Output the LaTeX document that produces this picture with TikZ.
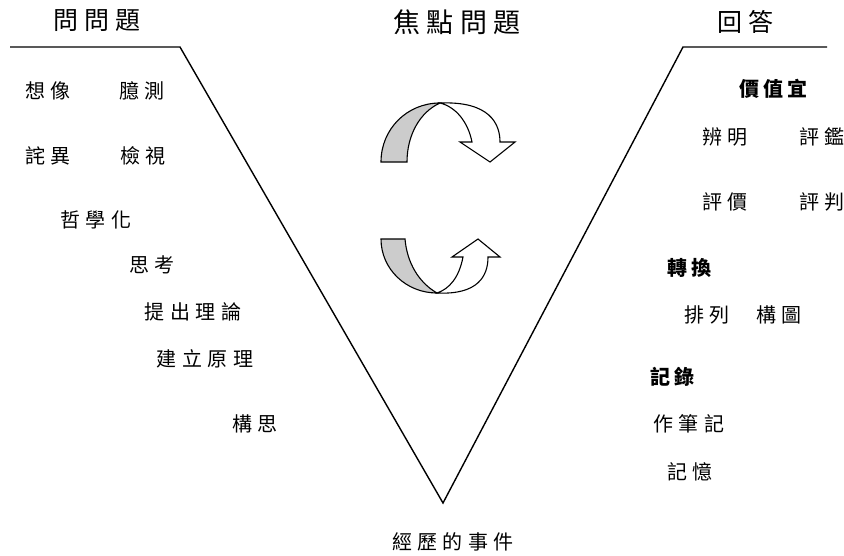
\documentclass[tikz,border=0pt]{standalone}
\usepackage{fontspec}
\newfontfamily\cjksm[LetterSpace=27]{Noto Sans CJK TC}
\newfontfamily\cjkti[LetterSpace=24]{Noto Sans CJK TC}
\newfontfamily\cjkbd[LetterSpace=20]{Noto Sans CJK TC}
\begin{document}
\begin{tikzpicture}[x=1pt,y=-1pt,
  lbl/.style={inner sep=0pt,font=\cjksm\fontsize{20}{22}\selectfont},
  ttl/.style={inner sep=0pt,font=\cjkti\fontsize{25}{28}\selectfont},
  bld/.style={inner sep=0pt,font=\cjkbd\bfseries\fontsize{20}{22}\selectfont},
  vline/.style={line width=1.4pt,line join=miter},
  arr/.style={line width=1.1pt,line join=miter,draw=black},
  grayfill/.style={arr,fill=black!20},
  whitefill/.style={arr,fill=white}]
\useasboundingbox (0,0) rectangle (844,555);
% V lines
\coordinate (l0) at (10,47);
\coordinate (l1) at (180,47);
\coordinate (v) at (443,503);
\coordinate (r1) at (683,47);
\coordinate (r0) at (827,47);
\draw[vline] (l0) -- (l1) -- (v) -- (r1) -- (r0);
% titles
\node[ttl] (t1) at (97,21) {問問題};
\node[ttl,font=\cjkti\fontsize{27}{30}\selectfont] (t2) at (457,22) {焦點問題};
\node[ttl] (t3) at (745,22) {回答};
% left labels
\node[lbl] (a1) at (48,91) {想像};
\node[lbl] (a2) at (142,91) {臆測};
\node[lbl] (a3) at (48,156) {詫異};
\node[lbl] (a4) at (143,156) {檢視};
\node[lbl] (a5) at (96,220) {哲學化};
\node[lbl] (a6) at (152,265) {思考};
\node[lbl] (a7) at (193,312) {提出理論};
\node[lbl] (a8) at (205,359) {建立原理};
\node[lbl] (a9) at (255,424) {構思};
% right labels
\node[bld] (b1) at (773,89) {價值宜};
\node[lbl] (b2) at (725,137) {辨明};
\node[lbl] (b3) at (822,137) {評鑑};
\node[lbl] (b4) at (725,202) {評價};
\node[lbl] (b5) at (822,202) {評判};
\node[bld] (b6) at (689,268) {轉換};
\node[lbl] (b7) at (707,315) {排列};
\node[lbl] (b8) at (779,315) {構圖};
\node[bld] (b9) at (672,377) {記錄};
\node[lbl] (b10) at (689,424) {作筆記};
\node[lbl] (b11) at (690,472) {記憶};
\node[lbl] (c1) at (453,542) {經歷的事件};
% top curved arrow
\path[grayfill] (381,162) -- (407,162)
  .. controls (407,135) and (420,112) .. (440,103)
  .. controls (407,103) and (381,129) .. (381,162) -- cycle;
\path[whitefill] (440,103) .. controls (490,101) and (500,124) .. (500,142)
  -- (515,142) -- (490,162) -- (460,142) -- (472,142)
  .. controls (468,122) and (456,107) .. (440,103) -- cycle;
% bottom curved arrow
\path[grayfill] (381,239) -- (405,239)
  .. controls (407,262) and (418,282) .. (437,293)
  .. controls (406,293) and (381,269) .. (381,239) -- cycle;
\path[whitefill] (437,293) .. controls (478,295) and (488,276) .. (488,257)
  -- (500,257) -- (478,239) -- (452,257) -- (463,257)
  .. controls (459,278) and (449,289) .. (437,293) -- cycle;
\end{tikzpicture}
\end{document}
